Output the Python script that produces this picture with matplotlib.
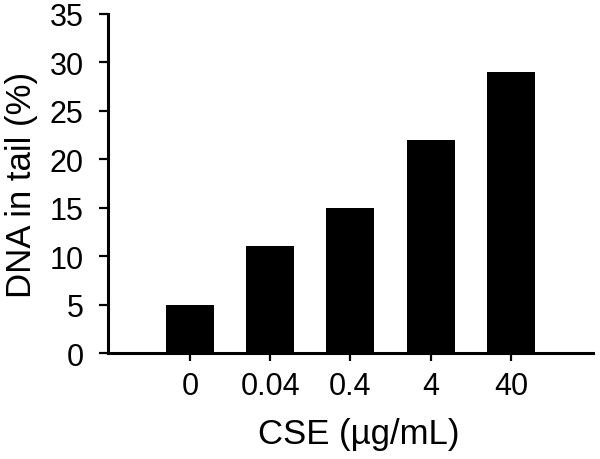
import matplotlib
matplotlib.use("Agg")
import matplotlib.pyplot as plt

categories = ["0", "0.04", "0.4", "4", "40"]
values = [5, 11, 15, 22, 29]
yticks = [0, 5, 10, 15, 20, 25, 30, 35]

plt.rcParams['font.family'] = ['Liberation Sans', 'DejaVu Sans']

fig = plt.figure(figsize=(6, 4.6), dpi=100)
ax = fig.add_axes([0.18, 0.2304, 0.808, 0.737])
x = list(range(len(categories)))
ax.bar(x, values, width=0.6, color='black')
ax.set_xlim(-1.02, len(categories) - 1 + 1.02)
ax.set_ylim(0, 35)
ax.set_yticks(yticks)
ax.set_xticks(x)
ax.set_xticklabels(categories)
for s in ['top', 'right']:
    ax.spines[s].set_visible(False)
for s in ['left', 'bottom']:
    ax.spines[s].set_linewidth(2.2)
ax.tick_params(axis='y', direction='out', length=6.5, width=1.6, pad=11, labelsize=22)
ax.tick_params(axis='x', direction='out', length=6, width=1.6, pad=7, labelsize=22)
ax.set_xlabel("CSE (\u00b5g/mL)", fontsize=25)
ax.set_ylabel("DNA in tail (%)", fontsize=25)
ax.xaxis.set_label_coords(0.517, -0.19)
ax.yaxis.set_label_coords(-0.145, 0.5)
fig.savefig("out.png", dpi=100)
